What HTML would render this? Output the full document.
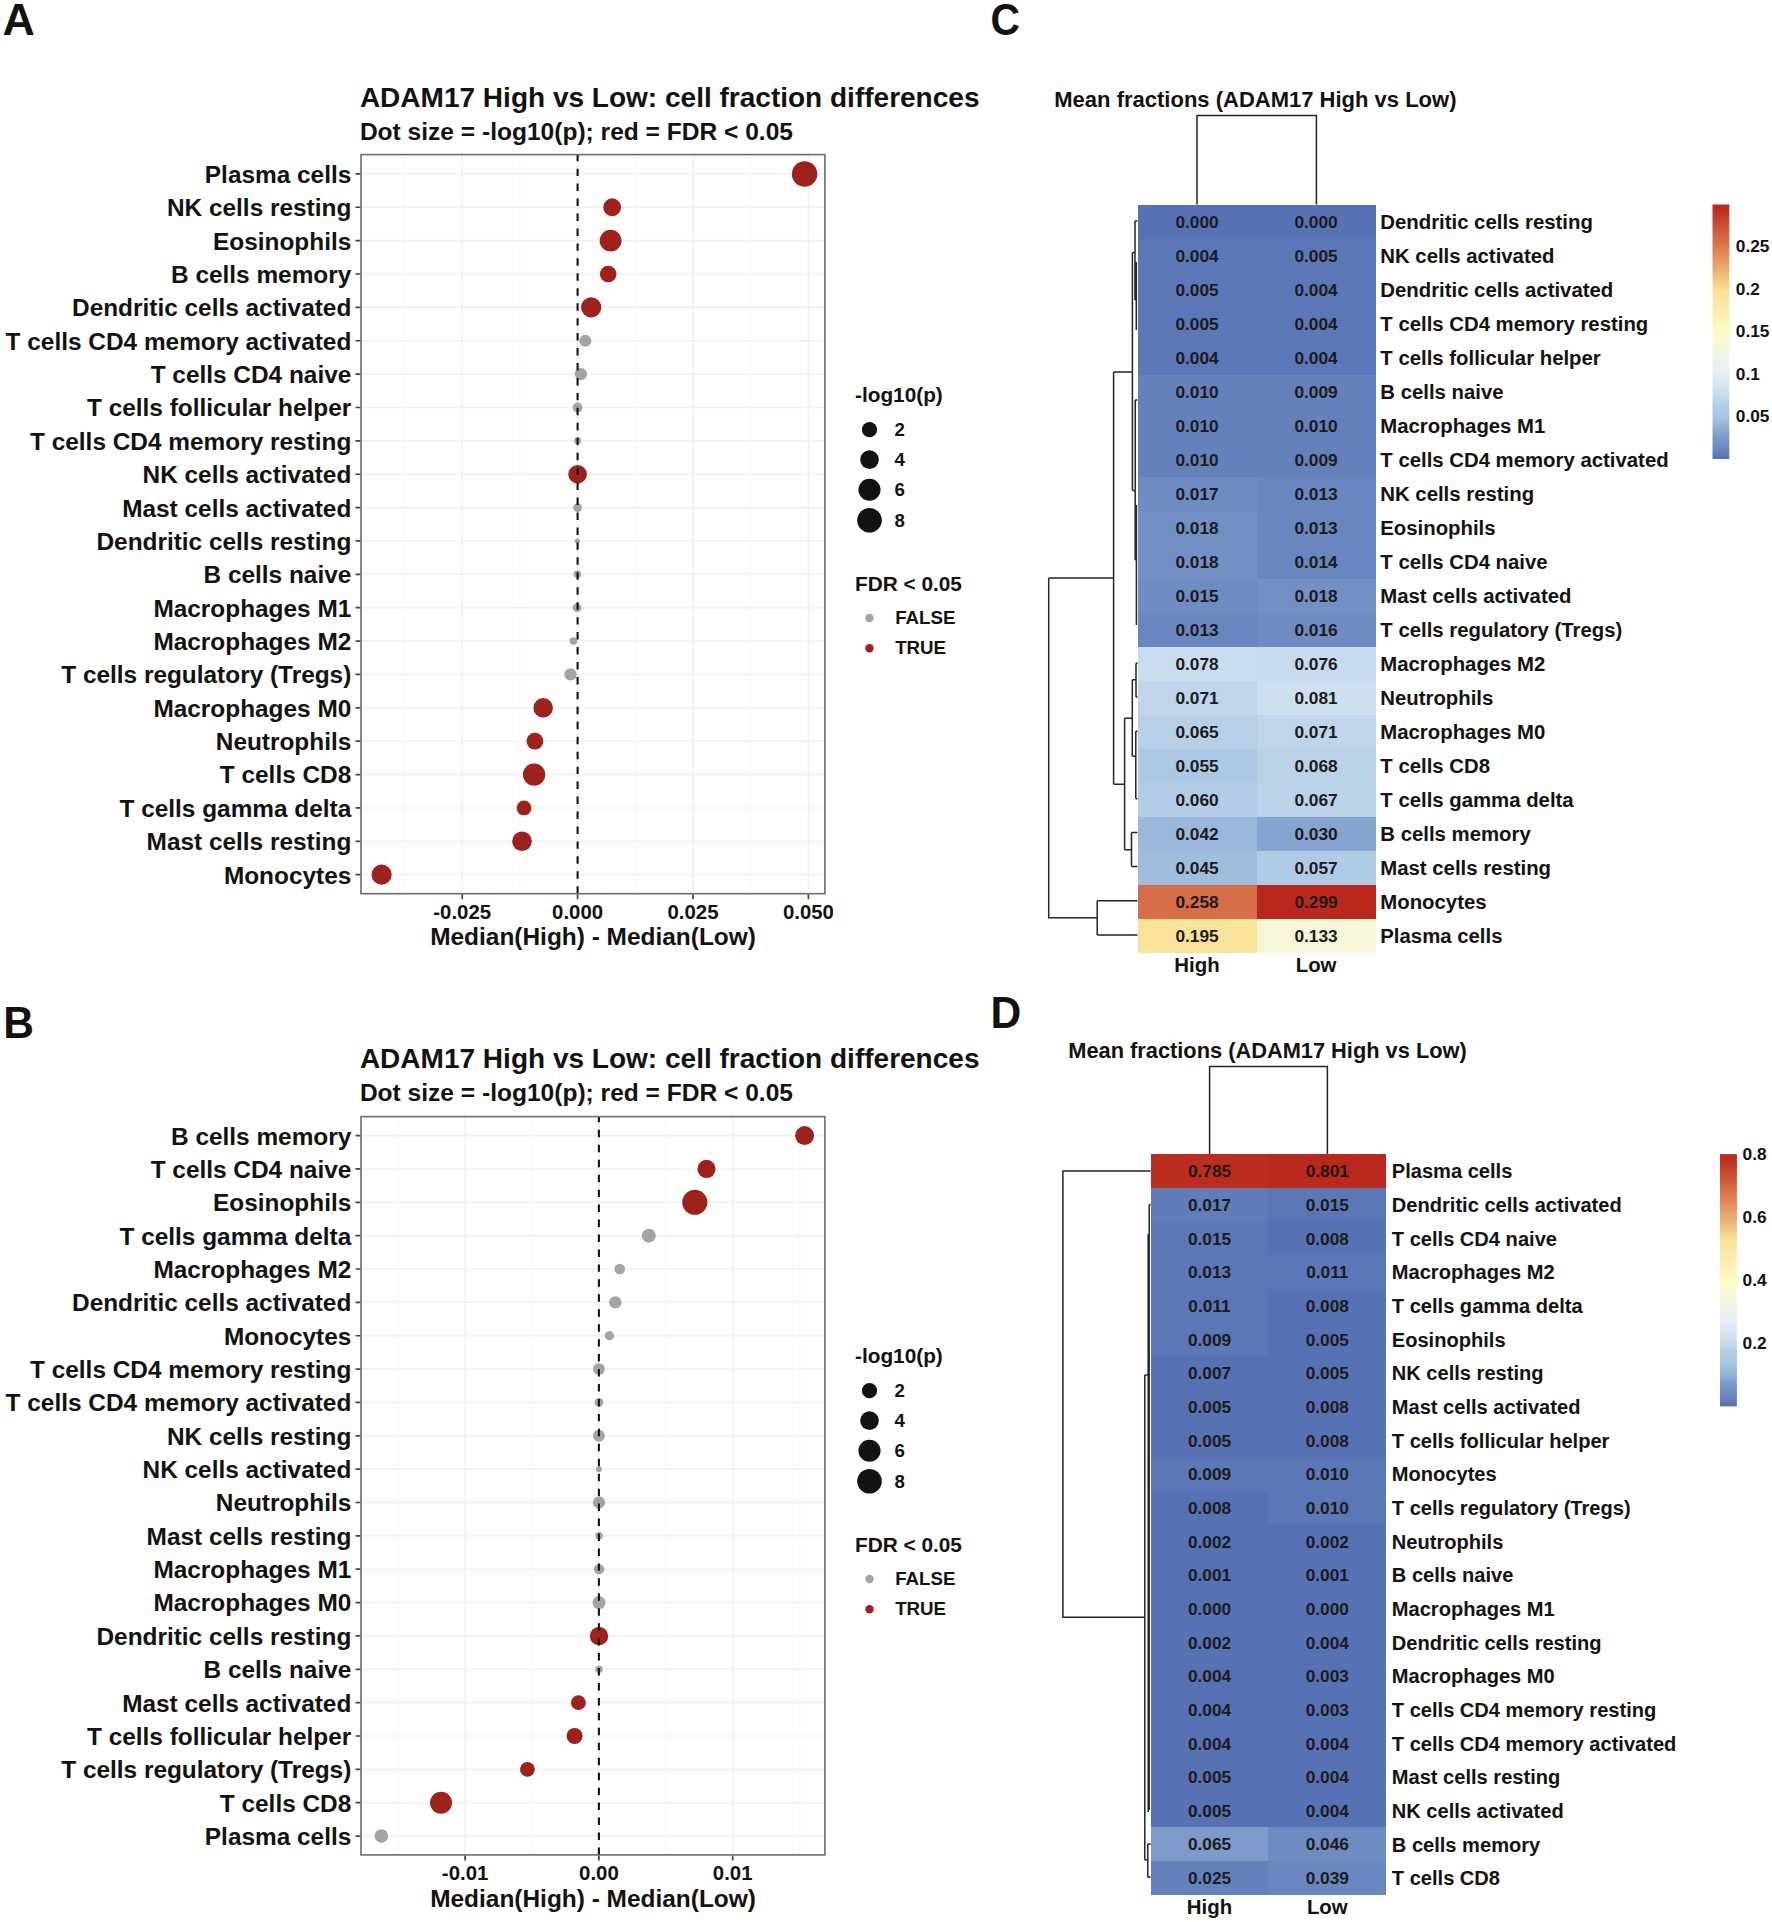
<!DOCTYPE html>
<html lang="en"><head><meta charset="utf-8"><title>ADAM17 High vs Low: cell fraction differences</title>
<style>html,body{margin:0;padding:0;background:#fff}svg{display:block}text{white-space:pre}</style></head>
<body>
<svg width="1772" height="1922" viewBox="0 0 1772 1922" font-family="'Liberation Sans', sans-serif" font-weight="bold">
<rect width="1772" height="1922" fill="#ffffff"/>
<g>
<text x="2.60" y="34.90" font-size="44.8" text-anchor="start" fill="#141210">A</text>
<text x="359.90" y="106.50" font-size="28.03" text-anchor="start" fill="#141210">ADAM17 High vs Low: cell fraction differences</text>
<text x="359.90" y="139.80" font-size="24.55" text-anchor="start" fill="#141210">Dot size = -log10(p); red = FDR &lt; 0.05</text>
<rect x="361.0" y="154.60" width="463.90" height="739.10" fill="#fff"/>
<path d="M404.50 154.60V893.70" stroke="#f5f7f9" stroke-width="0.9"/><path d="M519.90 154.60V893.70" stroke="#f5f7f9" stroke-width="0.9"/><path d="M635.30 154.60V893.70" stroke="#f5f7f9" stroke-width="0.9"/><path d="M750.70 154.60V893.70" stroke="#f5f7f9" stroke-width="0.9"/><path d="M462.20 154.60V893.70" stroke="#eff2f5" stroke-width="1.6"/><path d="M577.60 154.60V893.70" stroke="#eff2f5" stroke-width="1.6"/><path d="M693.00 154.60V893.70" stroke="#eff2f5" stroke-width="1.6"/><path d="M808.40 154.60V893.70" stroke="#eff2f5" stroke-width="1.6"/><path d="M361.0 173.90H824.9" stroke="#eff2f5" stroke-width="1.6"/><path d="M361.0 207.27H824.9" stroke="#eff2f5" stroke-width="1.6"/><path d="M361.0 240.64H824.9" stroke="#eff2f5" stroke-width="1.6"/><path d="M361.0 274.01H824.9" stroke="#eff2f5" stroke-width="1.6"/><path d="M361.0 307.38H824.9" stroke="#eff2f5" stroke-width="1.6"/><path d="M361.0 340.75H824.9" stroke="#eff2f5" stroke-width="1.6"/><path d="M361.0 374.12H824.9" stroke="#eff2f5" stroke-width="1.6"/><path d="M361.0 407.49H824.9" stroke="#eff2f5" stroke-width="1.6"/><path d="M361.0 440.86H824.9" stroke="#eff2f5" stroke-width="1.6"/><path d="M361.0 474.23H824.9" stroke="#eff2f5" stroke-width="1.6"/><path d="M361.0 507.60H824.9" stroke="#eff2f5" stroke-width="1.6"/><path d="M361.0 540.97H824.9" stroke="#eff2f5" stroke-width="1.6"/><path d="M361.0 574.34H824.9" stroke="#eff2f5" stroke-width="1.6"/><path d="M361.0 607.71H824.9" stroke="#eff2f5" stroke-width="1.6"/><path d="M361.0 641.08H824.9" stroke="#eff2f5" stroke-width="1.6"/><path d="M361.0 674.45H824.9" stroke="#eff2f5" stroke-width="1.6"/><path d="M361.0 707.82H824.9" stroke="#eff2f5" stroke-width="1.6"/><path d="M361.0 741.19H824.9" stroke="#eff2f5" stroke-width="1.6"/><path d="M361.0 774.56H824.9" stroke="#eff2f5" stroke-width="1.6"/><path d="M361.0 807.93H824.9" stroke="#eff2f5" stroke-width="1.6"/><path d="M361.0 841.30H824.9" stroke="#eff2f5" stroke-width="1.6"/><path d="M361.0 874.67H824.9" stroke="#eff2f5" stroke-width="1.6"/>
<circle cx="804.6" cy="173.90" r="12.75" fill="#9f211b" fill-opacity="1"/>
<circle cx="612.2" cy="207.27" r="8.90" fill="#9f211b" fill-opacity="1"/>
<circle cx="610.6" cy="240.64" r="10.90" fill="#9f211b" fill-opacity="1"/>
<circle cx="608.2" cy="274.01" r="8.30" fill="#9f211b" fill-opacity="1"/>
<circle cx="591.2" cy="307.38" r="10.10" fill="#9f211b" fill-opacity="1"/>
<circle cx="585.3" cy="340.75" r="6.00" fill="#a5a3a3" fill-opacity="1"/>
<circle cx="580.9" cy="374.12" r="6.15" fill="#a5a3a3" fill-opacity="1"/>
<circle cx="577.6" cy="407.49" r="4.95" fill="#a5a3a3" fill-opacity="1"/>
<circle cx="577.6" cy="440.86" r="3.50" fill="#a5a3a3" fill-opacity="1"/>
<circle cx="577.6" cy="474.23" r="9.30" fill="#9f211b" fill-opacity="1"/>
<circle cx="577.6" cy="507.60" r="4.35" fill="#a5a3a3" fill-opacity="1"/>
<circle cx="577.4" cy="540.97" r="2.50" fill="#a5a3a3" fill-opacity="1"/>
<circle cx="577.4" cy="574.34" r="3.75" fill="#a5a3a3" fill-opacity="1"/>
<circle cx="577.0" cy="607.71" r="4.35" fill="#a5a3a3" fill-opacity="1"/>
<circle cx="573.3" cy="641.08" r="3.75" fill="#a5a3a3" fill-opacity="1"/>
<circle cx="570.5" cy="674.45" r="6.15" fill="#a5a3a3" fill-opacity="1"/>
<circle cx="543.2" cy="707.82" r="9.80" fill="#9f211b" fill-opacity="1"/>
<circle cx="534.9" cy="741.19" r="8.40" fill="#9f211b" fill-opacity="1"/>
<circle cx="534.1" cy="774.56" r="11.15" fill="#9f211b" fill-opacity="1"/>
<circle cx="524.0" cy="807.93" r="7.40" fill="#9f211b" fill-opacity="1"/>
<circle cx="522.0" cy="841.30" r="9.80" fill="#9f211b" fill-opacity="1"/>
<circle cx="381.6" cy="874.67" r="10.10" fill="#9f211b" fill-opacity="1"/>
<path d="M577.60 893.70V154.60" stroke="#151311" stroke-width="2.1" stroke-dasharray="7.45 7.5" fill="none"/>
<rect x="361.0" y="154.60" width="463.90" height="739.10" fill="none" stroke="#6a6d70" stroke-width="1.6"/>
<path d="M355.50 173.90H360.40M355.50 207.27H360.40M355.50 240.64H360.40M355.50 274.01H360.40M355.50 307.38H360.40M355.50 340.75H360.40M355.50 374.12H360.40M355.50 407.49H360.40M355.50 440.86H360.40M355.50 474.23H360.40M355.50 507.60H360.40M355.50 540.97H360.40M355.50 574.34H360.40M355.50 607.71H360.40M355.50 641.08H360.40M355.50 674.45H360.40M355.50 707.82H360.40M355.50 741.19H360.40M355.50 774.56H360.40M355.50 807.93H360.40M355.50 841.30H360.40M355.50 874.67H360.40M462.20 894.30V899.20M577.60 894.30V899.20M693.00 894.30V899.20M808.40 894.30V899.20" stroke="#454647" stroke-width="1.7" fill="none"/>
<text x="351.30" y="182.80" font-size="24.4" text-anchor="end" fill="#141210">Plasma cells</text>
<text x="351.30" y="216.17" font-size="24.4" text-anchor="end" fill="#141210">NK cells resting</text>
<text x="351.30" y="249.54" font-size="24.4" text-anchor="end" fill="#141210">Eosinophils</text>
<text x="351.30" y="282.91" font-size="24.4" text-anchor="end" fill="#141210">B cells memory</text>
<text x="351.30" y="316.28" font-size="24.4" text-anchor="end" fill="#141210">Dendritic cells activated</text>
<text x="351.30" y="349.65" font-size="24.4" text-anchor="end" fill="#141210">T cells CD4 memory activated</text>
<text x="351.30" y="383.02" font-size="24.4" text-anchor="end" fill="#141210">T cells CD4 naive</text>
<text x="351.30" y="416.39" font-size="24.4" text-anchor="end" fill="#141210">T cells follicular helper</text>
<text x="351.30" y="449.76" font-size="24.4" text-anchor="end" fill="#141210">T cells CD4 memory resting</text>
<text x="351.30" y="483.13" font-size="24.4" text-anchor="end" fill="#141210">NK cells activated</text>
<text x="351.30" y="516.50" font-size="24.4" text-anchor="end" fill="#141210">Mast cells activated</text>
<text x="351.30" y="549.87" font-size="24.4" text-anchor="end" fill="#141210">Dendritic cells resting</text>
<text x="351.30" y="583.24" font-size="24.4" text-anchor="end" fill="#141210">B cells naive</text>
<text x="351.30" y="616.61" font-size="24.4" text-anchor="end" fill="#141210">Macrophages M1</text>
<text x="351.30" y="649.98" font-size="24.4" text-anchor="end" fill="#141210">Macrophages M2</text>
<text x="351.30" y="683.35" font-size="24.4" text-anchor="end" fill="#141210">T cells regulatory (Tregs)</text>
<text x="351.30" y="716.72" font-size="24.4" text-anchor="end" fill="#141210">Macrophages M0</text>
<text x="351.30" y="750.09" font-size="24.4" text-anchor="end" fill="#141210">Neutrophils</text>
<text x="351.30" y="783.46" font-size="24.4" text-anchor="end" fill="#141210">T cells CD8</text>
<text x="351.30" y="816.83" font-size="24.4" text-anchor="end" fill="#141210">T cells gamma delta</text>
<text x="351.30" y="850.20" font-size="24.4" text-anchor="end" fill="#141210">Mast cells resting</text>
<text x="351.30" y="883.57" font-size="24.4" text-anchor="end" fill="#141210">Monocytes</text>
<text x="462.20" y="918.50" font-size="20.4" text-anchor="middle" fill="#141210">-0.025</text>
<text x="577.60" y="918.50" font-size="20.4" text-anchor="middle" fill="#141210">0.000</text>
<text x="693.00" y="918.50" font-size="20.4" text-anchor="middle" fill="#141210">0.025</text>
<text x="808.40" y="918.50" font-size="20.4" text-anchor="middle" fill="#141210">0.050</text>
<text x="593.05" y="945.40" font-size="24.45" text-anchor="middle" fill="#141210">Median(High) - Median(Low)</text>
<text x="855.00" y="402.30" font-size="20.8" text-anchor="start" fill="#141210">-log10(p)</text>
<circle cx="869.5" cy="429.70" r="7.60" fill="#141210"/>
<text x="894.60" y="436.20" font-size="18.7" text-anchor="start" fill="#141210">2</text>
<circle cx="869.5" cy="459.60" r="9.35" fill="#141210"/>
<text x="894.60" y="466.10" font-size="18.7" text-anchor="start" fill="#141210">4</text>
<circle cx="869.5" cy="489.80" r="11.05" fill="#141210"/>
<text x="894.60" y="496.30" font-size="18.7" text-anchor="start" fill="#141210">6</text>
<circle cx="869.5" cy="520.20" r="12.30" fill="#141210"/>
<text x="894.60" y="526.70" font-size="18.7" text-anchor="start" fill="#141210">8</text>
<text x="855.00" y="591.30" font-size="20.8" text-anchor="start" fill="#141210">FDR &lt; 0.05</text>
<circle cx="869.5" cy="618.00" r="4.2" fill="#a5a3a3" fill-opacity="1"/>
<text x="895.20" y="624.20" font-size="18.7" text-anchor="start" fill="#141210">FALSE</text>
<circle cx="869.5" cy="648.20" r="4.2" fill="#9f211b" fill-opacity="1"/>
<text x="895.20" y="654.20" font-size="18.7" text-anchor="start" fill="#141210">TRUE</text>
</g>
<g>
<text transform="translate(3.15 1037.80) scale(0.95 1)" font-size="44.8" text-anchor="start" fill="#141210">B</text>
<text x="359.90" y="1067.90" font-size="28.03" text-anchor="start" fill="#141210">ADAM17 High vs Low: cell fraction differences</text>
<text x="359.90" y="1101.00" font-size="24.55" text-anchor="start" fill="#141210">Dot size = -log10(p); red = FDR &lt; 0.05</text>
<rect x="361.0" y="1116.60" width="463.90" height="738.30" fill="#fff"/>
<path d="M398.20 1116.60V1854.90" stroke="#f5f7f9" stroke-width="0.9"/><path d="M532.00 1116.60V1854.90" stroke="#f5f7f9" stroke-width="0.9"/><path d="M665.80 1116.60V1854.90" stroke="#f5f7f9" stroke-width="0.9"/><path d="M799.60 1116.60V1854.90" stroke="#f5f7f9" stroke-width="0.9"/><path d="M465.10 1116.60V1854.90" stroke="#eff2f5" stroke-width="1.6"/><path d="M598.90 1116.60V1854.90" stroke="#eff2f5" stroke-width="1.6"/><path d="M732.70 1116.60V1854.90" stroke="#eff2f5" stroke-width="1.6"/><path d="M361.0 1135.60H824.9" stroke="#eff2f5" stroke-width="1.6"/><path d="M361.0 1168.95H824.9" stroke="#eff2f5" stroke-width="1.6"/><path d="M361.0 1202.31H824.9" stroke="#eff2f5" stroke-width="1.6"/><path d="M361.0 1235.66H824.9" stroke="#eff2f5" stroke-width="1.6"/><path d="M361.0 1269.02H824.9" stroke="#eff2f5" stroke-width="1.6"/><path d="M361.0 1302.38H824.9" stroke="#eff2f5" stroke-width="1.6"/><path d="M361.0 1335.73H824.9" stroke="#eff2f5" stroke-width="1.6"/><path d="M361.0 1369.08H824.9" stroke="#eff2f5" stroke-width="1.6"/><path d="M361.0 1402.44H824.9" stroke="#eff2f5" stroke-width="1.6"/><path d="M361.0 1435.79H824.9" stroke="#eff2f5" stroke-width="1.6"/><path d="M361.0 1469.15H824.9" stroke="#eff2f5" stroke-width="1.6"/><path d="M361.0 1502.50H824.9" stroke="#eff2f5" stroke-width="1.6"/><path d="M361.0 1535.86H824.9" stroke="#eff2f5" stroke-width="1.6"/><path d="M361.0 1569.21H824.9" stroke="#eff2f5" stroke-width="1.6"/><path d="M361.0 1602.57H824.9" stroke="#eff2f5" stroke-width="1.6"/><path d="M361.0 1635.92H824.9" stroke="#eff2f5" stroke-width="1.6"/><path d="M361.0 1669.28H824.9" stroke="#eff2f5" stroke-width="1.6"/><path d="M361.0 1702.63H824.9" stroke="#eff2f5" stroke-width="1.6"/><path d="M361.0 1735.99H824.9" stroke="#eff2f5" stroke-width="1.6"/><path d="M361.0 1769.34H824.9" stroke="#eff2f5" stroke-width="1.6"/><path d="M361.0 1802.70H824.9" stroke="#eff2f5" stroke-width="1.6"/><path d="M361.0 1836.05H824.9" stroke="#eff2f5" stroke-width="1.6"/>
<circle cx="804.6" cy="1135.60" r="9.50" fill="#9f211b" fill-opacity="1"/>
<circle cx="706.5" cy="1168.95" r="9.10" fill="#9f211b" fill-opacity="1"/>
<circle cx="694.8" cy="1202.31" r="12.55" fill="#9f211b" fill-opacity="1"/>
<circle cx="648.8" cy="1235.66" r="7.00" fill="#a5a3a3" fill-opacity="1"/>
<circle cx="619.7" cy="1269.02" r="5.35" fill="#a5a3a3" fill-opacity="1"/>
<circle cx="615.3" cy="1302.38" r="6.15" fill="#a5a3a3" fill-opacity="1"/>
<circle cx="609.4" cy="1335.73" r="4.65" fill="#a5a3a3" fill-opacity="1"/>
<circle cx="598.9" cy="1369.08" r="5.95" fill="#a5a3a3" fill-opacity="1"/>
<circle cx="598.9" cy="1402.44" r="4.35" fill="#a5a3a3" fill-opacity="1"/>
<circle cx="598.9" cy="1435.79" r="5.95" fill="#a5a3a3" fill-opacity="1"/>
<circle cx="598.9" cy="1469.15" r="2.95" fill="#a5a3a3" fill-opacity="1"/>
<circle cx="599.0" cy="1502.50" r="6.15" fill="#a5a3a3" fill-opacity="1"/>
<circle cx="599.0" cy="1535.86" r="3.75" fill="#a5a3a3" fill-opacity="1"/>
<circle cx="599.0" cy="1569.21" r="5.15" fill="#a5a3a3" fill-opacity="1"/>
<circle cx="599.0" cy="1602.57" r="6.50" fill="#a5a3a3" fill-opacity="1"/>
<circle cx="599.0" cy="1635.92" r="9.20" fill="#9f211b" fill-opacity="1"/>
<circle cx="599.0" cy="1669.28" r="3.75" fill="#a5a3a3" fill-opacity="1"/>
<circle cx="578.4" cy="1702.63" r="7.40" fill="#9f211b" fill-opacity="1"/>
<circle cx="574.6" cy="1735.99" r="8.00" fill="#9f211b" fill-opacity="1"/>
<circle cx="527.4" cy="1769.34" r="7.40" fill="#9f211b" fill-opacity="1"/>
<circle cx="441.0" cy="1802.70" r="11.00" fill="#9f211b" fill-opacity="1"/>
<circle cx="381.4" cy="1836.05" r="6.80" fill="#a5a3a3" fill-opacity="1"/>
<path d="M598.90 1854.90V1116.60" stroke="#151311" stroke-width="2.1" stroke-dasharray="7.45 7.5" fill="none"/>
<rect x="361.0" y="1116.60" width="463.90" height="738.30" fill="none" stroke="#6a6d70" stroke-width="1.6"/>
<path d="M355.50 1135.60H360.40M355.50 1168.95H360.40M355.50 1202.31H360.40M355.50 1235.66H360.40M355.50 1269.02H360.40M355.50 1302.38H360.40M355.50 1335.73H360.40M355.50 1369.08H360.40M355.50 1402.44H360.40M355.50 1435.79H360.40M355.50 1469.15H360.40M355.50 1502.50H360.40M355.50 1535.86H360.40M355.50 1569.21H360.40M355.50 1602.57H360.40M355.50 1635.92H360.40M355.50 1669.28H360.40M355.50 1702.63H360.40M355.50 1735.99H360.40M355.50 1769.34H360.40M355.50 1802.70H360.40M355.50 1836.05H360.40M465.10 1855.50V1860.40M598.90 1855.50V1860.40M732.70 1855.50V1860.40" stroke="#454647" stroke-width="1.7" fill="none"/>
<text x="351.30" y="1144.50" font-size="24.4" text-anchor="end" fill="#141210">B cells memory</text>
<text x="351.30" y="1177.86" font-size="24.4" text-anchor="end" fill="#141210">T cells CD4 naive</text>
<text x="351.30" y="1211.21" font-size="24.4" text-anchor="end" fill="#141210">Eosinophils</text>
<text x="351.30" y="1244.57" font-size="24.4" text-anchor="end" fill="#141210">T cells gamma delta</text>
<text x="351.30" y="1277.92" font-size="24.4" text-anchor="end" fill="#141210">Macrophages M2</text>
<text x="351.30" y="1311.28" font-size="24.4" text-anchor="end" fill="#141210">Dendritic cells activated</text>
<text x="351.30" y="1344.63" font-size="24.4" text-anchor="end" fill="#141210">Monocytes</text>
<text x="351.30" y="1377.98" font-size="24.4" text-anchor="end" fill="#141210">T cells CD4 memory resting</text>
<text x="351.30" y="1411.34" font-size="24.4" text-anchor="end" fill="#141210">T cells CD4 memory activated</text>
<text x="351.30" y="1444.69" font-size="24.4" text-anchor="end" fill="#141210">NK cells resting</text>
<text x="351.30" y="1478.05" font-size="24.4" text-anchor="end" fill="#141210">NK cells activated</text>
<text x="351.30" y="1511.40" font-size="24.4" text-anchor="end" fill="#141210">Neutrophils</text>
<text x="351.30" y="1544.76" font-size="24.4" text-anchor="end" fill="#141210">Mast cells resting</text>
<text x="351.30" y="1578.12" font-size="24.4" text-anchor="end" fill="#141210">Macrophages M1</text>
<text x="351.30" y="1611.47" font-size="24.4" text-anchor="end" fill="#141210">Macrophages M0</text>
<text x="351.30" y="1644.82" font-size="24.4" text-anchor="end" fill="#141210">Dendritic cells resting</text>
<text x="351.30" y="1678.18" font-size="24.4" text-anchor="end" fill="#141210">B cells naive</text>
<text x="351.30" y="1711.53" font-size="24.4" text-anchor="end" fill="#141210">Mast cells activated</text>
<text x="351.30" y="1744.89" font-size="24.4" text-anchor="end" fill="#141210">T cells follicular helper</text>
<text x="351.30" y="1778.24" font-size="24.4" text-anchor="end" fill="#141210">T cells regulatory (Tregs)</text>
<text x="351.30" y="1811.60" font-size="24.4" text-anchor="end" fill="#141210">T cells CD8</text>
<text x="351.30" y="1844.95" font-size="24.4" text-anchor="end" fill="#141210">Plasma cells</text>
<text x="465.10" y="1879.60" font-size="20.4" text-anchor="middle" fill="#141210">-0.01</text>
<text x="598.90" y="1879.60" font-size="20.4" text-anchor="middle" fill="#141210">0.00</text>
<text x="732.70" y="1879.60" font-size="20.4" text-anchor="middle" fill="#141210">0.01</text>
<text x="593.05" y="1906.70" font-size="24.45" text-anchor="middle" fill="#141210">Median(High) - Median(Low)</text>
<text x="855.00" y="1363.30" font-size="20.8" text-anchor="start" fill="#141210">-log10(p)</text>
<circle cx="869.5" cy="1390.70" r="7.60" fill="#141210"/>
<text x="894.60" y="1397.20" font-size="18.7" text-anchor="start" fill="#141210">2</text>
<circle cx="869.5" cy="1420.60" r="9.35" fill="#141210"/>
<text x="894.60" y="1427.10" font-size="18.7" text-anchor="start" fill="#141210">4</text>
<circle cx="869.5" cy="1450.80" r="11.05" fill="#141210"/>
<text x="894.60" y="1457.30" font-size="18.7" text-anchor="start" fill="#141210">6</text>
<circle cx="869.5" cy="1481.20" r="12.30" fill="#141210"/>
<text x="894.60" y="1487.70" font-size="18.7" text-anchor="start" fill="#141210">8</text>
<text x="855.00" y="1552.30" font-size="20.8" text-anchor="start" fill="#141210">FDR &lt; 0.05</text>
<circle cx="869.5" cy="1579.00" r="4.2" fill="#a5a3a3" fill-opacity="1"/>
<text x="895.20" y="1585.20" font-size="18.7" text-anchor="start" fill="#141210">FALSE</text>
<circle cx="869.5" cy="1609.20" r="4.2" fill="#9f211b" fill-opacity="1"/>
<text x="895.20" y="1615.20" font-size="18.7" text-anchor="start" fill="#141210">TRUE</text>
</g>
<g>
<text transform="translate(990.60 35.00) scale(0.91 1)" font-size="44.8" text-anchor="start" fill="#141210">C</text>
<text x="1054.30" y="106.75" font-size="22" text-anchor="start" fill="#141210">Mean fractions (ADAM17 High vs Low)</text>
<rect x="1137.50" y="204.50" width="119.05" height="34.00" fill="#5672b4" shape-rendering="crispEdges"/>
<rect x="1256.55" y="204.50" width="119.05" height="34.00" fill="#5672b4" shape-rendering="crispEdges"/>
<rect x="1137.50" y="238.50" width="119.05" height="34.00" fill="#5b77b7" shape-rendering="crispEdges"/>
<rect x="1256.55" y="238.50" width="119.05" height="34.00" fill="#5b77b7" shape-rendering="crispEdges"/>
<rect x="1137.50" y="272.50" width="119.05" height="34.00" fill="#5b77b7" shape-rendering="crispEdges"/>
<rect x="1256.55" y="272.50" width="119.05" height="34.00" fill="#5b77b7" shape-rendering="crispEdges"/>
<rect x="1137.50" y="306.50" width="119.05" height="34.00" fill="#5b77b7" shape-rendering="crispEdges"/>
<rect x="1256.55" y="306.50" width="119.05" height="34.00" fill="#5b77b7" shape-rendering="crispEdges"/>
<rect x="1137.50" y="340.50" width="119.05" height="34.00" fill="#5b77b7" shape-rendering="crispEdges"/>
<rect x="1256.55" y="340.50" width="119.05" height="34.00" fill="#5b77b7" shape-rendering="crispEdges"/>
<rect x="1137.50" y="374.50" width="119.05" height="34.00" fill="#6581bc" shape-rendering="crispEdges"/>
<rect x="1256.55" y="374.50" width="119.05" height="34.00" fill="#6581bc" shape-rendering="crispEdges"/>
<rect x="1137.50" y="408.50" width="119.05" height="34.00" fill="#6581bc" shape-rendering="crispEdges"/>
<rect x="1256.55" y="408.50" width="119.05" height="34.00" fill="#6581bc" shape-rendering="crispEdges"/>
<rect x="1137.50" y="442.50" width="119.05" height="34.00" fill="#6581bc" shape-rendering="crispEdges"/>
<rect x="1256.55" y="442.50" width="119.05" height="34.00" fill="#6581bc" shape-rendering="crispEdges"/>
<rect x="1137.50" y="476.50" width="119.05" height="34.00" fill="#6e8bc2" shape-rendering="crispEdges"/>
<rect x="1256.55" y="476.50" width="119.05" height="34.00" fill="#6986bf" shape-rendering="crispEdges"/>
<rect x="1137.50" y="510.50" width="119.05" height="34.00" fill="#7390c5" shape-rendering="crispEdges"/>
<rect x="1256.55" y="510.50" width="119.05" height="34.00" fill="#6986bf" shape-rendering="crispEdges"/>
<rect x="1137.50" y="544.50" width="119.05" height="34.00" fill="#7390c5" shape-rendering="crispEdges"/>
<rect x="1256.55" y="544.50" width="119.05" height="34.00" fill="#6986bf" shape-rendering="crispEdges"/>
<rect x="1137.50" y="578.50" width="119.05" height="34.00" fill="#6e8bc2" shape-rendering="crispEdges"/>
<rect x="1256.55" y="578.50" width="119.05" height="34.00" fill="#7390c5" shape-rendering="crispEdges"/>
<rect x="1137.50" y="612.50" width="119.05" height="34.00" fill="#6986bf" shape-rendering="crispEdges"/>
<rect x="1256.55" y="612.50" width="119.05" height="34.00" fill="#6e8bc2" shape-rendering="crispEdges"/>
<rect x="1137.50" y="646.50" width="119.05" height="34.00" fill="#caddef" shape-rendering="crispEdges"/>
<rect x="1256.55" y="646.50" width="119.05" height="34.00" fill="#c6dbed" shape-rendering="crispEdges"/>
<rect x="1137.50" y="680.50" width="119.05" height="34.00" fill="#bed5eb" shape-rendering="crispEdges"/>
<rect x="1256.55" y="680.50" width="119.05" height="34.00" fill="#cde0f0" shape-rendering="crispEdges"/>
<rect x="1137.50" y="714.50" width="119.05" height="34.00" fill="#b7d0e8" shape-rendering="crispEdges"/>
<rect x="1256.55" y="714.50" width="119.05" height="34.00" fill="#bed5eb" shape-rendering="crispEdges"/>
<rect x="1137.50" y="748.50" width="119.05" height="34.00" fill="#acc8e4" shape-rendering="crispEdges"/>
<rect x="1256.55" y="748.50" width="119.05" height="34.00" fill="#bbd3e9" shape-rendering="crispEdges"/>
<rect x="1137.50" y="782.50" width="119.05" height="34.00" fill="#b3cde7" shape-rendering="crispEdges"/>
<rect x="1256.55" y="782.50" width="119.05" height="34.00" fill="#bbd3e9" shape-rendering="crispEdges"/>
<rect x="1137.50" y="816.50" width="119.05" height="34.00" fill="#9ab8db" shape-rendering="crispEdges"/>
<rect x="1256.55" y="816.50" width="119.05" height="34.00" fill="#86a4d0" shape-rendering="crispEdges"/>
<rect x="1137.50" y="850.50" width="119.05" height="34.00" fill="#9fbdde" shape-rendering="crispEdges"/>
<rect x="1256.55" y="850.50" width="119.05" height="34.00" fill="#afcbe5" shape-rendering="crispEdges"/>
<rect x="1137.50" y="884.50" width="119.05" height="34.00" fill="#d66d47" shape-rendering="crispEdges"/>
<rect x="1256.55" y="884.50" width="119.05" height="34.00" fill="#ba281c" shape-rendering="crispEdges"/>
<rect x="1137.50" y="918.50" width="119.05" height="34.00" fill="#fae299" shape-rendering="crispEdges"/>
<rect x="1256.55" y="918.50" width="119.05" height="34.00" fill="#f5f7d8" shape-rendering="crispEdges"/>
<text x="1197.03" y="227.85" font-size="17.3" text-anchor="middle" fill="#1d1b1a">0.000</text>
<text x="1316.08" y="227.85" font-size="17.3" text-anchor="middle" fill="#1d1b1a">0.000</text>
<text x="1380.30" y="228.90" font-size="20.35" text-anchor="start" fill="#141210">Dendritic cells resting</text>
<text x="1197.03" y="261.85" font-size="17.3" text-anchor="middle" fill="#1d1b1a">0.004</text>
<text x="1316.08" y="261.85" font-size="17.3" text-anchor="middle" fill="#1d1b1a">0.005</text>
<text x="1380.30" y="262.90" font-size="20.35" text-anchor="start" fill="#141210">NK cells activated</text>
<text x="1197.03" y="295.85" font-size="17.3" text-anchor="middle" fill="#1d1b1a">0.005</text>
<text x="1316.08" y="295.85" font-size="17.3" text-anchor="middle" fill="#1d1b1a">0.004</text>
<text x="1380.30" y="296.90" font-size="20.35" text-anchor="start" fill="#141210">Dendritic cells activated</text>
<text x="1197.03" y="329.85" font-size="17.3" text-anchor="middle" fill="#1d1b1a">0.005</text>
<text x="1316.08" y="329.85" font-size="17.3" text-anchor="middle" fill="#1d1b1a">0.004</text>
<text x="1380.30" y="330.90" font-size="20.35" text-anchor="start" fill="#141210">T cells CD4 memory resting</text>
<text x="1197.03" y="363.85" font-size="17.3" text-anchor="middle" fill="#1d1b1a">0.004</text>
<text x="1316.08" y="363.85" font-size="17.3" text-anchor="middle" fill="#1d1b1a">0.004</text>
<text x="1380.30" y="364.90" font-size="20.35" text-anchor="start" fill="#141210">T cells follicular helper</text>
<text x="1197.03" y="397.85" font-size="17.3" text-anchor="middle" fill="#1d1b1a">0.010</text>
<text x="1316.08" y="397.85" font-size="17.3" text-anchor="middle" fill="#1d1b1a">0.009</text>
<text x="1380.30" y="398.90" font-size="20.35" text-anchor="start" fill="#141210">B cells naive</text>
<text x="1197.03" y="431.85" font-size="17.3" text-anchor="middle" fill="#1d1b1a">0.010</text>
<text x="1316.08" y="431.85" font-size="17.3" text-anchor="middle" fill="#1d1b1a">0.010</text>
<text x="1380.30" y="432.90" font-size="20.35" text-anchor="start" fill="#141210">Macrophages M1</text>
<text x="1197.03" y="465.85" font-size="17.3" text-anchor="middle" fill="#1d1b1a">0.010</text>
<text x="1316.08" y="465.85" font-size="17.3" text-anchor="middle" fill="#1d1b1a">0.009</text>
<text x="1380.30" y="466.90" font-size="20.35" text-anchor="start" fill="#141210">T cells CD4 memory activated</text>
<text x="1197.03" y="499.85" font-size="17.3" text-anchor="middle" fill="#1d1b1a">0.017</text>
<text x="1316.08" y="499.85" font-size="17.3" text-anchor="middle" fill="#1d1b1a">0.013</text>
<text x="1380.30" y="500.90" font-size="20.35" text-anchor="start" fill="#141210">NK cells resting</text>
<text x="1197.03" y="533.85" font-size="17.3" text-anchor="middle" fill="#1d1b1a">0.018</text>
<text x="1316.08" y="533.85" font-size="17.3" text-anchor="middle" fill="#1d1b1a">0.013</text>
<text x="1380.30" y="534.90" font-size="20.35" text-anchor="start" fill="#141210">Eosinophils</text>
<text x="1197.03" y="567.85" font-size="17.3" text-anchor="middle" fill="#1d1b1a">0.018</text>
<text x="1316.08" y="567.85" font-size="17.3" text-anchor="middle" fill="#1d1b1a">0.014</text>
<text x="1380.30" y="568.90" font-size="20.35" text-anchor="start" fill="#141210">T cells CD4 naive</text>
<text x="1197.03" y="601.85" font-size="17.3" text-anchor="middle" fill="#1d1b1a">0.015</text>
<text x="1316.08" y="601.85" font-size="17.3" text-anchor="middle" fill="#1d1b1a">0.018</text>
<text x="1380.30" y="602.90" font-size="20.35" text-anchor="start" fill="#141210">Mast cells activated</text>
<text x="1197.03" y="635.85" font-size="17.3" text-anchor="middle" fill="#1d1b1a">0.013</text>
<text x="1316.08" y="635.85" font-size="17.3" text-anchor="middle" fill="#1d1b1a">0.016</text>
<text x="1380.30" y="636.90" font-size="20.35" text-anchor="start" fill="#141210">T cells regulatory (Tregs)</text>
<text x="1197.03" y="669.85" font-size="17.3" text-anchor="middle" fill="#1d1b1a">0.078</text>
<text x="1316.08" y="669.85" font-size="17.3" text-anchor="middle" fill="#1d1b1a">0.076</text>
<text x="1380.30" y="670.90" font-size="20.35" text-anchor="start" fill="#141210">Macrophages M2</text>
<text x="1197.03" y="703.85" font-size="17.3" text-anchor="middle" fill="#1d1b1a">0.071</text>
<text x="1316.08" y="703.85" font-size="17.3" text-anchor="middle" fill="#1d1b1a">0.081</text>
<text x="1380.30" y="704.90" font-size="20.35" text-anchor="start" fill="#141210">Neutrophils</text>
<text x="1197.03" y="737.85" font-size="17.3" text-anchor="middle" fill="#1d1b1a">0.065</text>
<text x="1316.08" y="737.85" font-size="17.3" text-anchor="middle" fill="#1d1b1a">0.071</text>
<text x="1380.30" y="738.90" font-size="20.35" text-anchor="start" fill="#141210">Macrophages M0</text>
<text x="1197.03" y="771.85" font-size="17.3" text-anchor="middle" fill="#1d1b1a">0.055</text>
<text x="1316.08" y="771.85" font-size="17.3" text-anchor="middle" fill="#1d1b1a">0.068</text>
<text x="1380.30" y="772.90" font-size="20.35" text-anchor="start" fill="#141210">T cells CD8</text>
<text x="1197.03" y="805.85" font-size="17.3" text-anchor="middle" fill="#1d1b1a">0.060</text>
<text x="1316.08" y="805.85" font-size="17.3" text-anchor="middle" fill="#1d1b1a">0.067</text>
<text x="1380.30" y="806.90" font-size="20.35" text-anchor="start" fill="#141210">T cells gamma delta</text>
<text x="1197.03" y="839.85" font-size="17.3" text-anchor="middle" fill="#1d1b1a">0.042</text>
<text x="1316.08" y="839.85" font-size="17.3" text-anchor="middle" fill="#1d1b1a">0.030</text>
<text x="1380.30" y="840.90" font-size="20.35" text-anchor="start" fill="#141210">B cells memory</text>
<text x="1197.03" y="873.85" font-size="17.3" text-anchor="middle" fill="#1d1b1a">0.045</text>
<text x="1316.08" y="873.85" font-size="17.3" text-anchor="middle" fill="#1d1b1a">0.057</text>
<text x="1380.30" y="874.90" font-size="20.35" text-anchor="start" fill="#141210">Mast cells resting</text>
<text x="1197.03" y="907.85" font-size="17.3" text-anchor="middle" fill="#1d1b1a">0.258</text>
<text x="1316.08" y="907.85" font-size="17.3" text-anchor="middle" fill="#1d1b1a">0.299</text>
<text x="1380.30" y="908.90" font-size="20.35" text-anchor="start" fill="#141210">Monocytes</text>
<text x="1197.03" y="941.85" font-size="17.3" text-anchor="middle" fill="#1d1b1a">0.195</text>
<text x="1316.08" y="941.85" font-size="17.3" text-anchor="middle" fill="#1d1b1a">0.133</text>
<text x="1380.30" y="942.90" font-size="20.35" text-anchor="start" fill="#141210">Plasma cells</text>
<text x="1197.03" y="971.70" font-size="20.4" text-anchor="middle" fill="#141210">High</text>
<text x="1316.08" y="971.70" font-size="20.4" text-anchor="middle" fill="#141210">Low</text>
<path d="M1197 204.5V115.6H1316.4V204.5 M1048.7 577.9V917.8H1097.2 M1097.2 900.7V935 M1097.2 900.7H1137.5 M1097.2 935H1137.5 M1048.7 577.9H1113.6 M1113.6 372V784.2 M1113.6 372H1132.4 M1132.4 252.4V490.5 M1132.4 252.4H1135 M1135 221V300 M1135 221H1137.5 M1135 300H1136.3 M1136.3 262V330 M1132.4 490.5H1135.2 M1135.2 400V560 M1135.2 400H1137.5 M1135.2 560H1136.4 M1136.4 505V625 M1113.6 784.2H1124.6 M1124.6 718.3V849.7 M1124.6 718.3H1132.3 M1132.3 679.8V756.2 M1132.3 679.8H1136 M1136 663.2V696.9 M1136 663.2H1137.5 M1136 696.9H1137.5 M1132.3 756.2H1135.8 M1135.8 731.2V798.8 M1135.8 731.2H1137.5 M1135.8 798.8H1137.5 M1124.6 849.7H1131.5 M1131.5 832.5V866.4 M1131.5 832.5H1137.5 M1131.5 866.4H1137.5" stroke="#262524" stroke-width="1.5" fill="none" stroke-linejoin="miter"/>
<defs><linearGradient id="gc" x1="0" y1="0" x2="0" y2="1"><stop offset="0.000" stop-color="#ba281c"/><stop offset="0.020" stop-color="#bc2d1f"/><stop offset="0.040" stop-color="#c13826"/><stop offset="0.060" stop-color="#c5432c"/><stop offset="0.080" stop-color="#c94d33"/><stop offset="0.100" stop-color="#ce5839"/><stop offset="0.120" stop-color="#d26340"/><stop offset="0.140" stop-color="#d66d47"/><stop offset="0.160" stop-color="#db784d"/><stop offset="0.180" stop-color="#df8354"/><stop offset="0.200" stop-color="#e28f5c"/><stop offset="0.220" stop-color="#e69a65"/><stop offset="0.240" stop-color="#e9a66d"/><stop offset="0.260" stop-color="#ecb175"/><stop offset="0.280" stop-color="#f0bd7d"/><stop offset="0.300" stop-color="#f3c986"/><stop offset="0.320" stop-color="#f7d48e"/><stop offset="0.340" stop-color="#fae299"/><stop offset="0.360" stop-color="#fae39c"/><stop offset="0.380" stop-color="#fbe7a2"/><stop offset="0.400" stop-color="#fbeaa8"/><stop offset="0.420" stop-color="#fcedae"/><stop offset="0.440" stop-color="#fcf0b4"/><stop offset="0.460" stop-color="#fdf4ba"/><stop offset="0.480" stop-color="#fdf7c0"/><stop offset="0.500" stop-color="#fefac6"/><stop offset="0.520" stop-color="#fcfacc"/><stop offset="0.540" stop-color="#f8f9d2"/><stop offset="0.560" stop-color="#f4f7db"/><stop offset="0.580" stop-color="#f2f6de"/><stop offset="0.600" stop-color="#eff5e4"/><stop offset="0.620" stop-color="#ecf3e9"/><stop offset="0.640" stop-color="#e9f2ef"/><stop offset="0.660" stop-color="#e6f1f5"/><stop offset="0.680" stop-color="#dcebf5"/><stop offset="0.700" stop-color="#d9e8f4"/><stop offset="0.720" stop-color="#d1e3f1"/><stop offset="0.740" stop-color="#caddef"/><stop offset="0.760" stop-color="#c2d8ec"/><stop offset="0.780" stop-color="#b7d0e8"/><stop offset="0.800" stop-color="#afcbe5"/><stop offset="0.820" stop-color="#acc8e4"/><stop offset="0.840" stop-color="#a4c2e1"/><stop offset="0.860" stop-color="#9ab8db"/><stop offset="0.880" stop-color="#90aed5"/><stop offset="0.900" stop-color="#829fcd"/><stop offset="0.920" stop-color="#7895c8"/><stop offset="0.940" stop-color="#7390c5"/><stop offset="0.960" stop-color="#6986bf"/><stop offset="0.980" stop-color="#607cba"/><stop offset="1.000" stop-color="#5672b4"/></linearGradient></defs>
<rect x="1712.5" y="204.5" width="16.80" height="254.50" fill="url(#gc)"/>
<text x="1735.80" y="422.29" font-size="17.3" text-anchor="start" fill="#141210">0.05</text>
<text x="1735.80" y="379.73" font-size="17.3" text-anchor="start" fill="#141210">0.1</text>
<text x="1735.80" y="337.17" font-size="17.3" text-anchor="start" fill="#141210">0.15</text>
<text x="1735.80" y="294.62" font-size="17.3" text-anchor="start" fill="#141210">0.2</text>
<text x="1735.80" y="252.06" font-size="17.3" text-anchor="start" fill="#141210">0.25</text>
</g>
<g>
<text transform="translate(990.50 1027.90) scale(0.95 1)" font-size="44.8" text-anchor="start" fill="#141210">D</text>
<text x="1068.30" y="1058.05" font-size="21.8" text-anchor="start" fill="#141210">Mean fractions (ADAM17 High vs Low)</text>
<rect x="1150.60" y="1154.10" width="117.80" height="33.66" fill="#bc2d1f" shape-rendering="crispEdges"/>
<rect x="1268.40" y="1154.10" width="117.80" height="33.66" fill="#ba281c" shape-rendering="crispEdges"/>
<rect x="1150.60" y="1187.76" width="117.80" height="33.66" fill="#607cba" shape-rendering="crispEdges"/>
<rect x="1268.40" y="1187.76" width="117.80" height="33.66" fill="#5b77b7" shape-rendering="crispEdges"/>
<rect x="1150.60" y="1221.42" width="117.80" height="33.66" fill="#5b77b7" shape-rendering="crispEdges"/>
<rect x="1268.40" y="1221.42" width="117.80" height="33.66" fill="#5672b4" shape-rendering="crispEdges"/>
<rect x="1150.60" y="1255.08" width="117.80" height="33.66" fill="#5b77b7" shape-rendering="crispEdges"/>
<rect x="1268.40" y="1255.08" width="117.80" height="33.66" fill="#5b77b7" shape-rendering="crispEdges"/>
<rect x="1150.60" y="1288.74" width="117.80" height="33.66" fill="#5b77b7" shape-rendering="crispEdges"/>
<rect x="1268.40" y="1288.74" width="117.80" height="33.66" fill="#5672b4" shape-rendering="crispEdges"/>
<rect x="1150.60" y="1322.40" width="117.80" height="33.66" fill="#5b77b7" shape-rendering="crispEdges"/>
<rect x="1268.40" y="1322.40" width="117.80" height="33.66" fill="#5672b4" shape-rendering="crispEdges"/>
<rect x="1150.60" y="1356.06" width="117.80" height="33.66" fill="#5672b4" shape-rendering="crispEdges"/>
<rect x="1268.40" y="1356.06" width="117.80" height="33.66" fill="#5672b4" shape-rendering="crispEdges"/>
<rect x="1150.60" y="1389.72" width="117.80" height="33.66" fill="#5672b4" shape-rendering="crispEdges"/>
<rect x="1268.40" y="1389.72" width="117.80" height="33.66" fill="#5672b4" shape-rendering="crispEdges"/>
<rect x="1150.60" y="1423.38" width="117.80" height="33.66" fill="#5672b4" shape-rendering="crispEdges"/>
<rect x="1268.40" y="1423.38" width="117.80" height="33.66" fill="#5672b4" shape-rendering="crispEdges"/>
<rect x="1150.60" y="1457.04" width="117.80" height="33.66" fill="#5b77b7" shape-rendering="crispEdges"/>
<rect x="1268.40" y="1457.04" width="117.80" height="33.66" fill="#5b77b7" shape-rendering="crispEdges"/>
<rect x="1150.60" y="1490.70" width="117.80" height="33.66" fill="#5672b4" shape-rendering="crispEdges"/>
<rect x="1268.40" y="1490.70" width="117.80" height="33.66" fill="#5b77b7" shape-rendering="crispEdges"/>
<rect x="1150.60" y="1524.36" width="117.80" height="33.66" fill="#5672b4" shape-rendering="crispEdges"/>
<rect x="1268.40" y="1524.36" width="117.80" height="33.66" fill="#5672b4" shape-rendering="crispEdges"/>
<rect x="1150.60" y="1558.02" width="117.80" height="33.66" fill="#5672b4" shape-rendering="crispEdges"/>
<rect x="1268.40" y="1558.02" width="117.80" height="33.66" fill="#5672b4" shape-rendering="crispEdges"/>
<rect x="1150.60" y="1591.68" width="117.80" height="33.66" fill="#5672b4" shape-rendering="crispEdges"/>
<rect x="1268.40" y="1591.68" width="117.80" height="33.66" fill="#5672b4" shape-rendering="crispEdges"/>
<rect x="1150.60" y="1625.34" width="117.80" height="33.66" fill="#5672b4" shape-rendering="crispEdges"/>
<rect x="1268.40" y="1625.34" width="117.80" height="33.66" fill="#5672b4" shape-rendering="crispEdges"/>
<rect x="1150.60" y="1659.00" width="117.80" height="33.66" fill="#5672b4" shape-rendering="crispEdges"/>
<rect x="1268.40" y="1659.00" width="117.80" height="33.66" fill="#5672b4" shape-rendering="crispEdges"/>
<rect x="1150.60" y="1692.66" width="117.80" height="33.66" fill="#5672b4" shape-rendering="crispEdges"/>
<rect x="1268.40" y="1692.66" width="117.80" height="33.66" fill="#5672b4" shape-rendering="crispEdges"/>
<rect x="1150.60" y="1726.32" width="117.80" height="33.66" fill="#5672b4" shape-rendering="crispEdges"/>
<rect x="1268.40" y="1726.32" width="117.80" height="33.66" fill="#5672b4" shape-rendering="crispEdges"/>
<rect x="1150.60" y="1759.98" width="117.80" height="33.66" fill="#5672b4" shape-rendering="crispEdges"/>
<rect x="1268.40" y="1759.98" width="117.80" height="33.66" fill="#5672b4" shape-rendering="crispEdges"/>
<rect x="1150.60" y="1793.64" width="117.80" height="33.66" fill="#5672b4" shape-rendering="crispEdges"/>
<rect x="1268.40" y="1793.64" width="117.80" height="33.66" fill="#5672b4" shape-rendering="crispEdges"/>
<rect x="1150.60" y="1827.30" width="117.80" height="33.66" fill="#7d9aca" shape-rendering="crispEdges"/>
<rect x="1268.40" y="1827.30" width="117.80" height="33.66" fill="#6e8bc2" shape-rendering="crispEdges"/>
<rect x="1150.60" y="1860.96" width="117.80" height="33.66" fill="#6581bc" shape-rendering="crispEdges"/>
<rect x="1268.40" y="1860.96" width="117.80" height="33.66" fill="#6986bf" shape-rendering="crispEdges"/>
<text x="1209.50" y="1177.28" font-size="17.3" text-anchor="middle" fill="#1d1b1a">0.785</text>
<text x="1327.30" y="1177.28" font-size="17.3" text-anchor="middle" fill="#1d1b1a">0.801</text>
<text x="1391.80" y="1178.33" font-size="20.08" text-anchor="start" fill="#141210">Plasma cells</text>
<text x="1209.50" y="1210.94" font-size="17.3" text-anchor="middle" fill="#1d1b1a">0.017</text>
<text x="1327.30" y="1210.94" font-size="17.3" text-anchor="middle" fill="#1d1b1a">0.015</text>
<text x="1391.80" y="1211.99" font-size="20.08" text-anchor="start" fill="#141210">Dendritic cells activated</text>
<text x="1209.50" y="1244.60" font-size="17.3" text-anchor="middle" fill="#1d1b1a">0.015</text>
<text x="1327.30" y="1244.60" font-size="17.3" text-anchor="middle" fill="#1d1b1a">0.008</text>
<text x="1391.80" y="1245.65" font-size="20.08" text-anchor="start" fill="#141210">T cells CD4 naive</text>
<text x="1209.50" y="1278.26" font-size="17.3" text-anchor="middle" fill="#1d1b1a">0.013</text>
<text x="1327.30" y="1278.26" font-size="17.3" text-anchor="middle" fill="#1d1b1a">0.011</text>
<text x="1391.80" y="1279.31" font-size="20.08" text-anchor="start" fill="#141210">Macrophages M2</text>
<text x="1209.50" y="1311.92" font-size="17.3" text-anchor="middle" fill="#1d1b1a">0.011</text>
<text x="1327.30" y="1311.92" font-size="17.3" text-anchor="middle" fill="#1d1b1a">0.008</text>
<text x="1391.80" y="1312.97" font-size="20.08" text-anchor="start" fill="#141210">T cells gamma delta</text>
<text x="1209.50" y="1345.58" font-size="17.3" text-anchor="middle" fill="#1d1b1a">0.009</text>
<text x="1327.30" y="1345.58" font-size="17.3" text-anchor="middle" fill="#1d1b1a">0.005</text>
<text x="1391.80" y="1346.63" font-size="20.08" text-anchor="start" fill="#141210">Eosinophils</text>
<text x="1209.50" y="1379.24" font-size="17.3" text-anchor="middle" fill="#1d1b1a">0.007</text>
<text x="1327.30" y="1379.24" font-size="17.3" text-anchor="middle" fill="#1d1b1a">0.005</text>
<text x="1391.80" y="1380.29" font-size="20.08" text-anchor="start" fill="#141210">NK cells resting</text>
<text x="1209.50" y="1412.90" font-size="17.3" text-anchor="middle" fill="#1d1b1a">0.005</text>
<text x="1327.30" y="1412.90" font-size="17.3" text-anchor="middle" fill="#1d1b1a">0.008</text>
<text x="1391.80" y="1413.95" font-size="20.08" text-anchor="start" fill="#141210">Mast cells activated</text>
<text x="1209.50" y="1446.56" font-size="17.3" text-anchor="middle" fill="#1d1b1a">0.005</text>
<text x="1327.30" y="1446.56" font-size="17.3" text-anchor="middle" fill="#1d1b1a">0.008</text>
<text x="1391.80" y="1447.61" font-size="20.08" text-anchor="start" fill="#141210">T cells follicular helper</text>
<text x="1209.50" y="1480.22" font-size="17.3" text-anchor="middle" fill="#1d1b1a">0.009</text>
<text x="1327.30" y="1480.22" font-size="17.3" text-anchor="middle" fill="#1d1b1a">0.010</text>
<text x="1391.80" y="1481.27" font-size="20.08" text-anchor="start" fill="#141210">Monocytes</text>
<text x="1209.50" y="1513.88" font-size="17.3" text-anchor="middle" fill="#1d1b1a">0.008</text>
<text x="1327.30" y="1513.88" font-size="17.3" text-anchor="middle" fill="#1d1b1a">0.010</text>
<text x="1391.80" y="1514.93" font-size="20.08" text-anchor="start" fill="#141210">T cells regulatory (Tregs)</text>
<text x="1209.50" y="1547.54" font-size="17.3" text-anchor="middle" fill="#1d1b1a">0.002</text>
<text x="1327.30" y="1547.54" font-size="17.3" text-anchor="middle" fill="#1d1b1a">0.002</text>
<text x="1391.80" y="1548.59" font-size="20.08" text-anchor="start" fill="#141210">Neutrophils</text>
<text x="1209.50" y="1581.20" font-size="17.3" text-anchor="middle" fill="#1d1b1a">0.001</text>
<text x="1327.30" y="1581.20" font-size="17.3" text-anchor="middle" fill="#1d1b1a">0.001</text>
<text x="1391.80" y="1582.25" font-size="20.08" text-anchor="start" fill="#141210">B cells naive</text>
<text x="1209.50" y="1614.86" font-size="17.3" text-anchor="middle" fill="#1d1b1a">0.000</text>
<text x="1327.30" y="1614.86" font-size="17.3" text-anchor="middle" fill="#1d1b1a">0.000</text>
<text x="1391.80" y="1615.91" font-size="20.08" text-anchor="start" fill="#141210">Macrophages M1</text>
<text x="1209.50" y="1648.52" font-size="17.3" text-anchor="middle" fill="#1d1b1a">0.002</text>
<text x="1327.30" y="1648.52" font-size="17.3" text-anchor="middle" fill="#1d1b1a">0.004</text>
<text x="1391.80" y="1649.57" font-size="20.08" text-anchor="start" fill="#141210">Dendritic cells resting</text>
<text x="1209.50" y="1682.18" font-size="17.3" text-anchor="middle" fill="#1d1b1a">0.004</text>
<text x="1327.30" y="1682.18" font-size="17.3" text-anchor="middle" fill="#1d1b1a">0.003</text>
<text x="1391.80" y="1683.23" font-size="20.08" text-anchor="start" fill="#141210">Macrophages M0</text>
<text x="1209.50" y="1715.84" font-size="17.3" text-anchor="middle" fill="#1d1b1a">0.004</text>
<text x="1327.30" y="1715.84" font-size="17.3" text-anchor="middle" fill="#1d1b1a">0.003</text>
<text x="1391.80" y="1716.89" font-size="20.08" text-anchor="start" fill="#141210">T cells CD4 memory resting</text>
<text x="1209.50" y="1749.50" font-size="17.3" text-anchor="middle" fill="#1d1b1a">0.004</text>
<text x="1327.30" y="1749.50" font-size="17.3" text-anchor="middle" fill="#1d1b1a">0.004</text>
<text x="1391.80" y="1750.55" font-size="20.08" text-anchor="start" fill="#141210">T cells CD4 memory activated</text>
<text x="1209.50" y="1783.16" font-size="17.3" text-anchor="middle" fill="#1d1b1a">0.005</text>
<text x="1327.30" y="1783.16" font-size="17.3" text-anchor="middle" fill="#1d1b1a">0.004</text>
<text x="1391.80" y="1784.21" font-size="20.08" text-anchor="start" fill="#141210">Mast cells resting</text>
<text x="1209.50" y="1816.82" font-size="17.3" text-anchor="middle" fill="#1d1b1a">0.005</text>
<text x="1327.30" y="1816.82" font-size="17.3" text-anchor="middle" fill="#1d1b1a">0.004</text>
<text x="1391.80" y="1817.87" font-size="20.08" text-anchor="start" fill="#141210">NK cells activated</text>
<text x="1209.50" y="1850.48" font-size="17.3" text-anchor="middle" fill="#1d1b1a">0.065</text>
<text x="1327.30" y="1850.48" font-size="17.3" text-anchor="middle" fill="#1d1b1a">0.046</text>
<text x="1391.80" y="1851.53" font-size="20.08" text-anchor="start" fill="#141210">B cells memory</text>
<text x="1209.50" y="1884.14" font-size="17.3" text-anchor="middle" fill="#1d1b1a">0.025</text>
<text x="1327.30" y="1884.14" font-size="17.3" text-anchor="middle" fill="#1d1b1a">0.039</text>
<text x="1391.80" y="1885.19" font-size="20.08" text-anchor="start" fill="#141210">T cells CD8</text>
<text x="1209.50" y="1914.20" font-size="20.4" text-anchor="middle" fill="#141210">High</text>
<text x="1327.30" y="1914.20" font-size="20.4" text-anchor="middle" fill="#141210">Low</text>
<path d="M1209.6 1154.1V1066.4H1327.4V1154.1 M1150.6 1170.9H1062.9V1617.3H1144.8 M1144.8 1375V1860 M1144.8 1375H1148.4 M1149.2 1204.5V1810 M1148.2 1234V1812 M1149.2 1204.5H1150.6 M1144.8 1860H1147.8 M1147.8 1844V1877.3 M1147.8 1844H1150.6 M1147.8 1877.3H1150.6" stroke="#262524" stroke-width="1.5" fill="none" stroke-linejoin="miter"/>
<defs><linearGradient id="gd" x1="0" y1="0" x2="0" y2="1"><stop offset="0.000" stop-color="#ba281c"/><stop offset="0.020" stop-color="#bc2d1f"/><stop offset="0.040" stop-color="#c13826"/><stop offset="0.060" stop-color="#c5432c"/><stop offset="0.080" stop-color="#c94d33"/><stop offset="0.100" stop-color="#ce5839"/><stop offset="0.120" stop-color="#d26340"/><stop offset="0.140" stop-color="#d66d47"/><stop offset="0.160" stop-color="#db784d"/><stop offset="0.180" stop-color="#df8354"/><stop offset="0.200" stop-color="#e28f5c"/><stop offset="0.220" stop-color="#e69a65"/><stop offset="0.240" stop-color="#e9a66d"/><stop offset="0.260" stop-color="#ecb175"/><stop offset="0.280" stop-color="#f0bd7d"/><stop offset="0.300" stop-color="#f3c986"/><stop offset="0.320" stop-color="#f7d48e"/><stop offset="0.340" stop-color="#fae299"/><stop offset="0.360" stop-color="#fae39c"/><stop offset="0.380" stop-color="#fbe7a2"/><stop offset="0.400" stop-color="#fbeaa8"/><stop offset="0.420" stop-color="#fcedae"/><stop offset="0.440" stop-color="#fcf0b4"/><stop offset="0.460" stop-color="#fdf4ba"/><stop offset="0.480" stop-color="#fdf7c0"/><stop offset="0.500" stop-color="#fefac6"/><stop offset="0.520" stop-color="#fcfacc"/><stop offset="0.540" stop-color="#f8f9d2"/><stop offset="0.560" stop-color="#f4f7db"/><stop offset="0.580" stop-color="#f2f6de"/><stop offset="0.600" stop-color="#eff5e4"/><stop offset="0.620" stop-color="#ecf3e9"/><stop offset="0.640" stop-color="#e9f2ef"/><stop offset="0.660" stop-color="#e6f1f5"/><stop offset="0.680" stop-color="#dcebf5"/><stop offset="0.700" stop-color="#d9e8f4"/><stop offset="0.720" stop-color="#d1e3f1"/><stop offset="0.740" stop-color="#caddef"/><stop offset="0.760" stop-color="#c2d8ec"/><stop offset="0.780" stop-color="#b7d0e8"/><stop offset="0.800" stop-color="#afcbe5"/><stop offset="0.820" stop-color="#acc8e4"/><stop offset="0.840" stop-color="#a4c2e1"/><stop offset="0.860" stop-color="#9ab8db"/><stop offset="0.880" stop-color="#90aed5"/><stop offset="0.900" stop-color="#829fcd"/><stop offset="0.920" stop-color="#7895c8"/><stop offset="0.940" stop-color="#7390c5"/><stop offset="0.960" stop-color="#6986bf"/><stop offset="0.980" stop-color="#607cba"/><stop offset="1.000" stop-color="#5672b4"/></linearGradient></defs>
<rect x="1720.0" y="1154.1" width="16.90" height="252.30" fill="url(#gd)"/>
<text x="1742.60" y="1349.25" font-size="17.3" text-anchor="start" fill="#141210">0.2</text>
<text x="1742.60" y="1286.26" font-size="17.3" text-anchor="start" fill="#141210">0.4</text>
<text x="1742.60" y="1223.26" font-size="17.3" text-anchor="start" fill="#141210">0.6</text>
<text x="1742.60" y="1160.26" font-size="17.3" text-anchor="start" fill="#141210">0.8</text>
</g>
</svg>
</body></html>
